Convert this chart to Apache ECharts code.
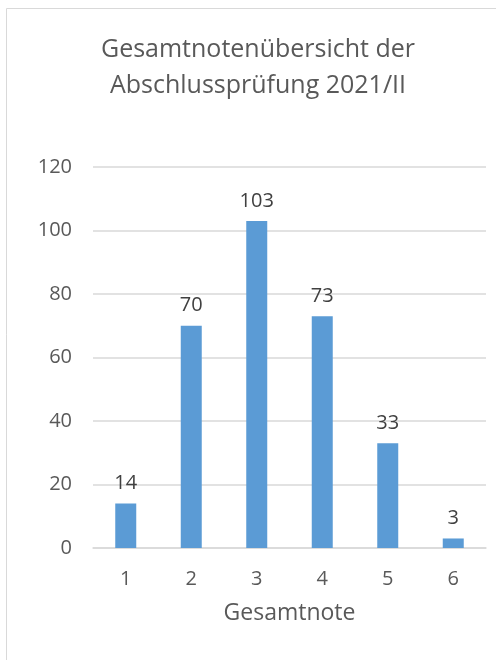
<!DOCTYPE html>
<html>
<head>
<meta charset="utf-8">
<script src="https://cdn.jsdelivr.net/npm/echarts@6/dist/echarts.min.js"></script>
<style>
  html, body { margin: 0; padding: 0; background: #fff; }
  #chart { width: 496px; height: 660px; }
</style>
</head>
<body>
<div id="chart"></div>
<script>
const categories = ['1', '2', '3', '4', '5', '6']
const counts = [14, 70, 103, 73, 33, 3]
const yTicks = { min: 0, max: 120, interval: 20 }

const font = '"Open Sans", "Noto Sans", sans-serif'

const chart = echarts.init(document.getElementById('chart'))
chart.setOption({
  animation: false,
  title: {
    text: 'Gesamtnotenübersicht der\nAbschlussprüfung 2021/II',
    left: 253,
    textAlign: 'center',
    top: 27,
    textStyle: {
      fontFamily: font,
      fontSize: 25,
      fontWeight: 'normal',
      color: '#595959',
      lineHeight: 36
    }
  },
  // Rahmen
  graphic: [{
    type: 'rect',
    shape: { x: 6.5, y: 8.5, width: 600, height: 700 },
    style: { fill: 'none', stroke: '#d9d9d9', lineWidth: 1 },
    silent: true
  }],
  grid: {
    top: 167,
    right: 10,
    bottom: 112,
    left: 93
  },
  xAxis: {
    type: 'category',
    data: categories,
    name: 'Gesamtnote',
    nameLocation: 'middle',
    nameGap: 54,
    nameTextStyle: { fontFamily: font, fontSize: 23, color: '#595959' },
    axisLine: { lineStyle: { color: '#d9d9d9', width: 1.5 } },
    axisTick: { show: false },
    axisLabel: { fontFamily: font, fontSize: 20, color: '#595959', margin: 21 }
  },
  yAxis: {
    type: 'value',
    min: yTicks.min,
    max: yTicks.max,
    interval: yTicks.interval,
    axisLine: { show: false },
    axisTick: { show: false },
    splitLine: { lineStyle: { color: '#d9d9d9', width: 1.5 } },
    axisLabel: { fontFamily: font, fontSize: 20, color: '#595959', margin: 21 }
  },
  series: [{
    type: 'bar',
    data: counts,
    barWidth: 21,
    itemStyle: { color: '#5b9bd5' },
    label: {
      show: true,
      position: 'top',
      distance: 10,
      fontFamily: font,
      fontSize: 20,
      color: '#404040'
    }
  }]
})
</script>
</body>
</html>
